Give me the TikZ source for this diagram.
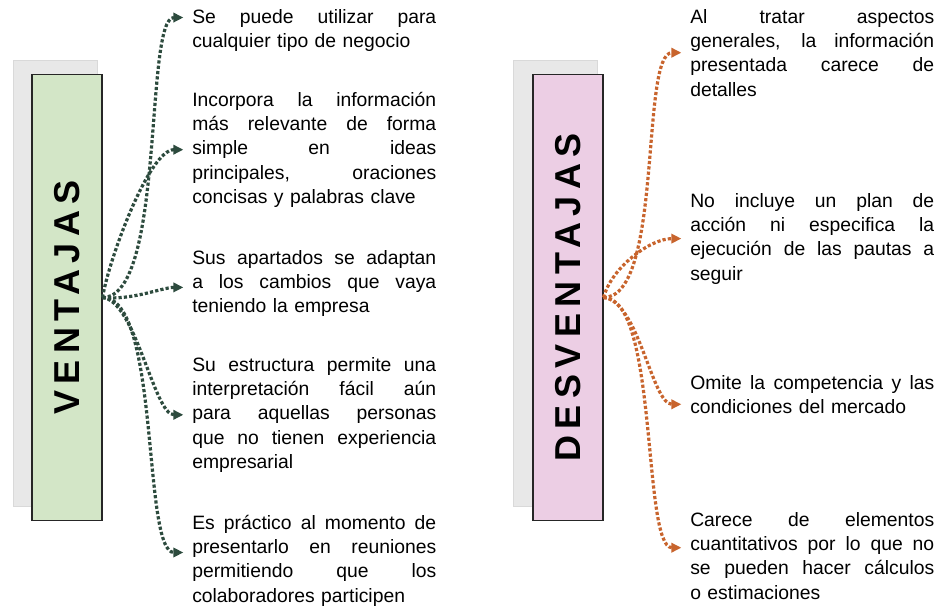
\documentclass[tikz,border=0pt]{standalone}
\usepackage{fontspec}
\setmainfont{Liberation Sans}
\newfontfamily\titlefont[LetterSpace=18]{Liberation Sans}
\usetikzlibrary{arrows.meta}

\definecolor{ventgreen}{RGB}{211,230,199}
\definecolor{desvpink}{RGB}{236,206,228}
\definecolor{shadegray}{RGB}{232,232,232}
\definecolor{arrowgreen}{RGB}{45,75,62}
\definecolor{arrowrust}{RGB}{200,100,45}

% one line spread out to the full column width
\newlength{\colw}
\setlength{\colw}{183pt}
\newcommand{\fullline}[1]{\leavevmode\hbox to \colw{\spaceskip=0.28em plus 1fil\relax
    \xspaceskip=\spaceskip #1}}

\begin{document}
\begin{tikzpicture}[x=0.75pt, y=-0.75pt,
    shadowbox/.style={fill=shadegray, draw=black!15, line width=0.6pt},
    titlebox/.style={draw=black!85, line width=0.8pt, rotate=90, inner sep=0,
        minimum width=335pt, minimum height=52.5pt,
        font=\titlefont\bfseries\fontsize{27}{30}\selectfont},
    itemtext/.style={anchor=base west, inner sep=0, text width=\colw,
        font=\fontsize{14.5}{18.3}\selectfont},
    dotarrow/.style={line width=2.4pt, dash pattern=on 2.4pt off 1.6pt,
        -{Triangle[length=7.5pt,width=7pt]}, shorten >=6.5pt}]
                \useasboundingbox[fill=white] (0,0) rectangle (946,611);

                % Shadows
                \draw[shadowbox] (13,60) rectangle (97,506);
                \draw[shadowbox] (513,60) rectangle (597,506);

                % Title boxes
                \node[titlebox, fill=ventgreen] (ventajas) at (67,297.5) {VENTAJAS};
                \node[titlebox, fill=desvpink] (desventajas) at (568,297.5) {DESVENTAJAS};

                % Ventajas
                \node[itemtext] (v1) at (192,23) {\fullline{Se puede utilizar para}\\
                    cualquier tipo de negocio};
                \node[itemtext] (v2) at (192,106) {\fullline{Incorpora la información}\\
                    \fullline{más relevante de forma}\\
                    \fullline{simple en ideas}\\
                    \fullline{principales, oraciones}\\
                    concisas y palabras clave};
                \node[itemtext] (v3) at (192,264) {\fullline{Sus apartados se adaptan}\\
                    \fullline{a los cambios que vaya}\\
                    teniendo la empresa};
                \node[itemtext] (v4) at (192,371) {\fullline{Su estructura permite una}\\
                    \fullline{interpretación fácil aún}\\
                    \fullline{para aquellas personas}\\
                    \fullline{que no tienen experiencia}\\
                    empresarial};
                \node[itemtext] (v5) at (192,529) {\fullline{Es práctico al momento de}\\
                    \fullline{presentarlo en reuniones}\\
                    \fullline{permitiendo que los}\\
                    colaboradores participen};

                % Desventajas
                \node[itemtext] (d1) at (690,23) {\fullline{Al tratar aspectos}\\
                    \fullline{generales, la información}\\
                    \fullline{presentada carece de}\\
                    detalles};
                \node[itemtext] (d2) at (690,207) {\fullline{No incluye un plan de}\\
                    \fullline{acción ni especifica la}\\
                    \fullline{ejecución de las pautas a}\\
                    seguir};
                \node[itemtext] (d3) at (690,389) {\fullline{Omite la competencia y las}\\
                    condiciones del mercado};
                \node[itemtext] (d4) at (690,526) {\fullline{Carece de elementos}\\
                    \fullline{cuantitativos por lo que no}\\
                    \fullline{se pueden hacer cálculos}\\
                    o estimaciones};

                % Ventajas connections
                \draw[dotarrow, arrowgreen] (ventajas.south) .. controls +(63,0) and +(-48,0) .. ([yshift=9.5pt]v1.west);
                \draw[dotarrow, arrowgreen] (ventajas.south) .. controls +(6,-37) and +(-43,0) .. (v2.west);
                \draw[dotarrow, arrowgreen] (ventajas.south) .. controls +(30,3) and +(-30,0) .. ([yshift=-3pt]v3.west);
                \draw[dotarrow, arrowgreen] (ventajas.south) .. controls +(33,3) and +(-38,0) .. (v4.west);
                \draw[dotarrow, arrowgreen] (ventajas.south) .. controls +(58,0) and +(-50,0) .. ([yshift=6pt]v5.west);

                % Desventajas connections
                \draw[dotarrow, arrowrust] (desventajas.south) .. controls +(60,0) and +(-50,0) .. (d1.west);
                \draw[dotarrow, arrowrust] (desventajas.south) .. controls +(8,-30) and +(-40,0) .. (d2.west);
                \draw[dotarrow, arrowrust] (desventajas.south) .. controls +(35,3) and +(-38,0) .. ([yshift=-7.5pt]d3.west);
                \draw[dotarrow, arrowrust] (desventajas.south) .. controls +(55,0) and +(-48,0) .. ([yshift=6pt]d4.west);
            \end{tikzpicture}
\end{document}
